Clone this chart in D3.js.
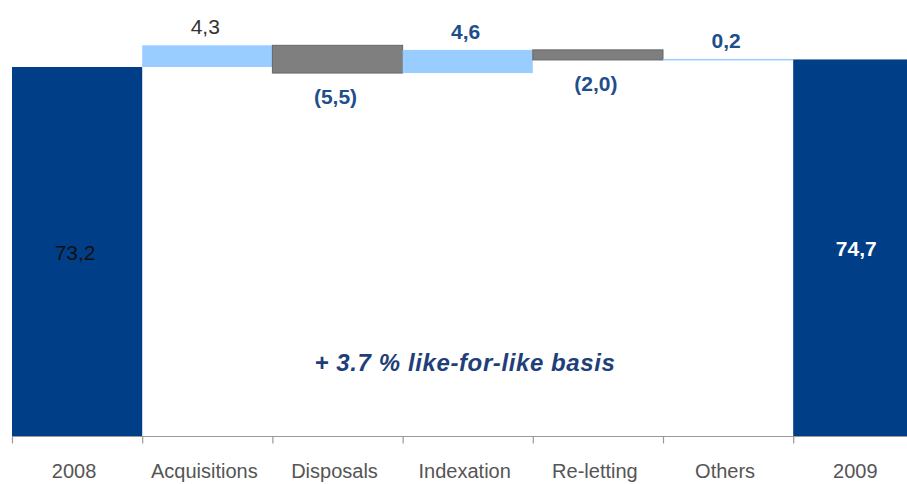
<!DOCTYPE html>
<html>
<head>
<meta charset="utf-8">
<script src="https://cdn.jsdelivr.net/npm/d3@7"></script>
<style>
  body { margin: 0; background: #fff; }
  svg { display: block; font-family: "Liberation Sans", Arial, sans-serif; }
</style>
</head>
<body>
<div id="chart"></div>
<script>
// waterfall data
const categories = ["2008", "Acquisitions", "Disposals", "Indexation", "Re-letting", "Others", "2009"];
const deltas = [73.2, 4.3, -5.5, 4.6, -2.0, 0.2, 74.7];
const kinds = ["total", "up", "down", "up", "down", "up", "total"];
const valueLabels = ["73,2", "4,3", "(5,5)", "4,6", "(2,0)", "0,2", "74,7"];
const note = "+ 3.7 % like-for-like basis";

const width = 907, height = 484;
const margin = {top: 0, right: 0, bottom: 48, left: 12};
const bandW = 130.2;

const svg = d3.select("#chart").append("svg")
  .attr("width", width)
  .attr("height", height);

// build running totals
let run = 0;
const bars = categories.map((c, i) => {
  let y0, y1;
  if (kinds[i] === "total") { y0 = 0; y1 = deltas[i]; run = deltas[i]; }
  else { y0 = run; y1 = run + deltas[i]; run = y1; }
  return {cat: c, y0: y0, y1: y1, kind: kinds[i], label: valueLabels[i]};
});

const x = d3.scaleBand()
  .domain(categories)
  .range([margin.left, margin.left + bandW * categories.length])
  .padding(0);

const y = d3.scaleLinear()
  .domain([0, 73.2])
  .range([436, 67]);

const colors = {total: "#003f87", up: "#99ccff", down: "#7f7f7f"};

svg.selectAll("rect.bar")
  .data(bars)
  .enter().append("rect")
  .attr("class", "bar")
  .attr("x", d => x(d.cat))
  .attr("width", x.bandwidth())
  .attr("y", d => y(Math.max(d.y0, d.y1)))
  .attr("height", d => Math.max(1.5, Math.abs(y(d.y0) - y(d.y1))))
  .attr("fill", d => colors[d.kind])
  .attr("stroke", d => d.kind === "down" ? "#666" : "none")
  .attr("stroke-width", 1);

// axis line + boundary ticks
const axisY = 436.5;
svg.append("line")
  .attr("x1", margin.left).attr("x2", width)
  .attr("y1", axisY).attr("y2", axisY)
  .attr("stroke", "#999").attr("stroke-width", 1.2);

svg.selectAll("line.tick")
  .data(categories)
  .enter().append("line")
  .attr("class", "tick")
  .attr("x1", d => x(d) + 0.5).attr("x2", d => x(d) + 0.5)
  .attr("y1", axisY).attr("y2", axisY + 7)
  .attr("stroke", "#999").attr("stroke-width", 1.2);

// category labels
svg.selectAll("text.cat")
  .data(categories)
  .enter().append("text")
  .attr("class", "cat")
  .attr("x", d => x(d) + x.bandwidth() / 2 - 3)
  .attr("y", 478)
  .attr("text-anchor", "middle")
  .attr("font-size", 20)
  .attr("fill", "#555")
  .text(d => d);

// value labels
svg.selectAll("text.val")
  .data(bars)
  .enter().append("text")
  .attr("class", "val")
  .attr("x", d => x(d.cat) + x.bandwidth() / 2 - 2)
  .attr("y", (d, i) => {
    if (d.kind === "total") return y(d.y1 / 2) + 8;
    if (d.kind === "down") return y(Math.min(d.y0, d.y1)) + 31;
    return y(Math.max(d.y0, d.y1)) - 11;
  })
  .attr("text-anchor", "middle")
  .attr("font-size", 21)
  .attr("font-weight", (d, i) => (i === 0 || i === 1) ? "normal" : "bold")
  .attr("fill", (d, i) => i === 0 ? "#111" : i === 1 ? "#333" : i === 6 ? "#fff" : "#1f4e8c")
  .text(d => d.label);

svg.append("text")
  .attr("x", 465)
  .attr("y", 371)
  .attr("text-anchor", "middle")
  .attr("font-size", 24)
  .attr("font-weight", "bold")
  .attr("font-style", "italic")
  .attr("letter-spacing", 0.6)
  .attr("fill", "#1f3f7a")
  .text(note);
</script>
</body>
</html>
